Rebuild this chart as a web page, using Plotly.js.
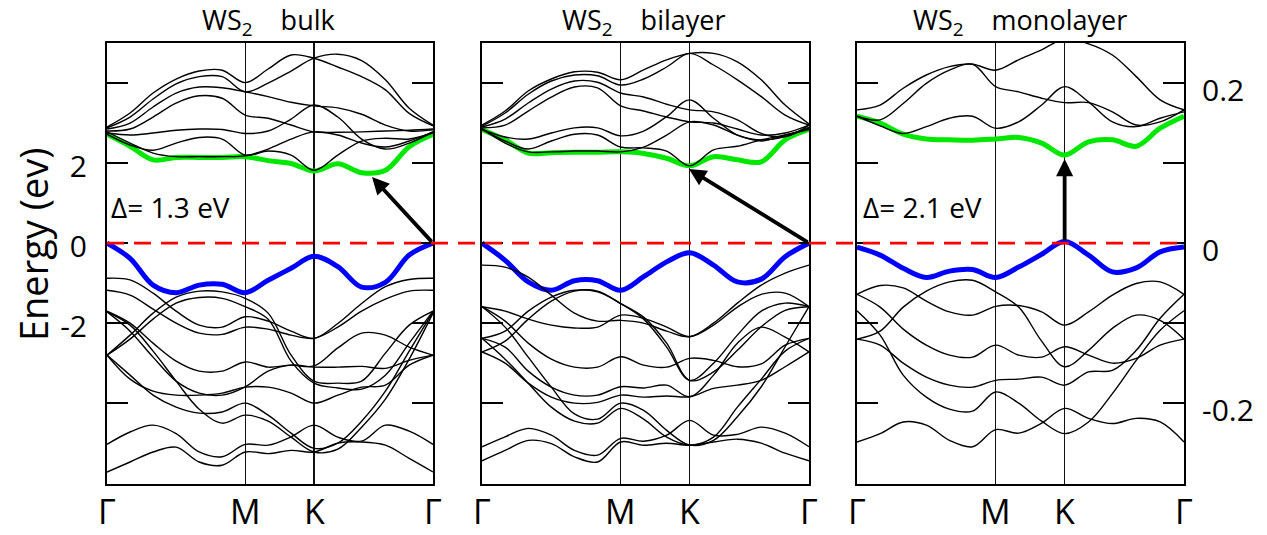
<!DOCTYPE html>
<html>
<head>
<meta charset="utf-8">
<script src="https://cdn.plot.ly/plotly-3.0.1.min.js"></script>
<style>
  html, body { margin: 0; padding: 0; background: #fff; }
  #plot { width: 1267px; height: 535px; }
</style>
</head>
<body>
<div id="plot"></div>
<script>
// k-path sampling along Γ–M–K–Γ (fraction of the path length)
const kPath = [0, 0.0707, 0.1413, 0.212, 0.2827, 0.3533, 0.424, 0.4943, 0.5647, 0.635, 0.708, 0.781, 0.854, 0.927, 1];
const kTicks = [0, 0.424, 0.635, 1];
const kLabels = ['Γ', 'M', 'K', 'Γ'];
const eTicks = [-4, -2, 0, 2, 4];
const eLabelsLeft = ['', '-2', '0', '2', ''];
const eLabelsRight = ['-0.2', '', '0', '', '0.2'];

// ---- WS2 bulk ----
const bulkVBM = [0, -0.38, -1.05, -1.24, -1.05, -1.03, -1.24, -0.93, -0.63, -0.33, -0.59, -1.1, -0.98, -0.3, 0];
const bulkCBM = [2.72, 2.42, 2.08, 2.14, 2.14, 2.14, 2.16, 2.06, 1.99, 1.80, 1.98, 1.76, 1.82, 2.41, 2.72];
const bulkConduction = [
  [2.9, 3.25, 3.75, 4.1, 4.3, 4.32, 4.01, 4.35, 4.7, 4.62, 4.4, 4.16, 3.83, 3.24, 2.93],
  [2.88, 3.15, 3.6, 3.98, 4.16, 4.16, 3.78, 4.0, 4.3, 4.62, 4.72, 4.56, 4.08, 3.37, 2.95],
  [2.85, 3.0, 3.4, 3.75, 3.9, 3.88, 3.78, 3.66, 3.52, 3.43, 3.38, 3.22, 2.95, 2.8, 2.83],
  [2.8, 2.85, 3.15, 3.5, 3.68, 3.62, 3.2, 3.12, 2.95, 2.78, 2.77, 2.78, 2.8, 2.82, 2.85],
  [2.75, 2.7, 2.75, 2.82, 2.85, 2.84, 2.74, 2.8, 3.1, 3.45, 3.15, 2.6, 2.35, 2.5, 2.78],
  [2.72, 2.45, 2.32, 2.5, 2.64, 2.6, 2.2, 2.3, 2.2, 1.82, 2.2, 2.55, 2.62, 2.6, 2.75],
  [2.78, 2.5, 2.25, 2.16, 2.16, 2.16, 2.18, 2.35, 2.6, 2.78, 2.7, 2.5, 2.4, 2.55, 2.78]
];
const bulkValence = [
  [-0.88, -0.92, -1.25, -1.7, -2.05, -2.1, -1.84, -1.95, -2.2, -2.38, -2.01, -1.51, -1.09, -0.91, -0.88],
  [-1.18, -1.3, -1.65, -2.0, -2.25, -2.28, -2.1, -2.15, -2.3, -2.38, -2.1, -1.7, -1.4, -1.2, -1.18],
  [-2.8, -2.3, -1.75, -1.35, -1.2, -1.22, -1.38, -1.75, -2.8, -3.45, -3.5, -3.45, -2.75, -2.05, -1.7],
  [-2.8, -2.4, -1.9, -1.5, -1.36, -1.38, -1.59, -1.9, -2.95, -3.5, -3.62, -3.65, -3.3, -2.5, -1.7],
  [-1.7, -2.0, -2.5, -2.95, -3.2, -3.2, -2.97, -3.1, -3.05, -3.07, -2.62, -2.25, -2.3, -2.6, -2.8],
  [-1.72, -2.2, -2.85, -3.45, -3.75, -3.8, -3.59, -3.2, -3.05, -3.1, -3.1, -3.08, -3.13, -2.93, -2.8],
  [-2.8, -3.3, -3.8, -4.1, -4.25, -4.22, -4.0, -4.3, -4.75, -5.13, -5.0, -4.45, -3.7, -2.7, -1.72],
  [-1.72, -2.05, -2.7, -3.45, -4.15, -4.5, -4.3, -4.45, -4.85, -5.22, -5.15, -4.6, -3.9, -2.9, -1.75],
  [-5.03, -4.72, -4.55, -4.76, -5.22, -5.34, -5.03, -5.05, -4.84, -4.55, -4.85, -4.95, -4.55, -4.7, -5.03],
  [-5.72, -5.47, -5.22, -5.1, -5.47, -5.55, -5.22, -5.26, -5.18, -5.22, -5.0, -4.97, -5.05, -5.38, -5.72],
  [-2.8, -3.4, -3.7, -3.8, -3.8, -3.75, -3.6, -3.6, -3.75, -4.0, -3.8, -3.6, -3.55, -3.05, -2.8]
];

// ---- WS2 bilayer ----
const bilayerVBM = [0, -0.43, -0.97, -1.18, -0.94, -0.94, -1.18, -0.84, -0.47, -0.24, -0.55, -0.97, -0.9, -0.34, 0];
const bilayerCBM = [2.84, 2.58, 2.25, 2.26, 2.27, 2.27, 2.28, 2.24, 2.12, 1.93, 2.16, 2.08, 2.03, 2.58, 2.84];
const bilayerConduction = [
  [2.95, 3.3, 3.8, 4.1, 4.28, 4.27, 4.08, 4.33, 4.58, 4.74, 4.74, 4.53, 4.08, 3.45, 2.98],
  [2.92, 3.25, 3.72, 4.05, 4.2, 4.18, 3.95, 4.1, 4.4, 4.74, 4.45, 4.08, 3.66, 3.2, 2.95],
  [2.9, 3.1, 3.5, 3.85, 4.05, 4.02, 3.75, 3.65, 3.47, 3.33, 3.28, 3.08, 2.74, 2.66, 2.95],
  [2.88, 2.95, 3.3, 3.65, 3.9, 3.88, 3.43, 3.3, 3.15, 3.03, 3.0, 2.85, 2.7, 2.75, 2.95],
  [2.84, 2.65, 2.6, 2.75, 2.88, 2.88, 2.68, 2.8, 3.16, 3.58, 3.12, 2.7, 2.58, 2.66, 2.89],
  [2.84, 2.55, 2.35, 2.55, 2.72, 2.7, 2.4, 2.38, 2.3, 1.93, 2.33, 2.42, 2.58, 2.7, 2.84],
  [2.86, 2.5, 2.28, 2.28, 2.3, 2.3, 2.28, 2.4, 2.7, 3.03, 2.95, 2.7, 2.55, 2.7, 2.86]
];
const bilayerValence = [
  [-0.55, -0.6, -0.85, -1.3, -1.75, -1.95, -1.93, -2.0, -2.2, -2.34, -2.0, -1.5, -1.05, -0.75, -0.55],
  [-2.72, -2.45, -1.9, -1.45, -1.2, -1.2, -1.51, -1.85, -2.5, -3.43, -3.22, -2.68, -2.09, -1.68, -1.59],
  [-2.38, -2.2, -1.7, -1.35, -1.18, -1.22, -1.51, -1.9, -2.6, -3.43, -3.0, -2.3, -1.7, -1.5, -1.59],
  [-1.59, -1.7, -1.9, -2.05, -2.12, -2.1, -1.8, -1.88, -2.1, -2.34, -2.05, -1.6, -1.28, -1.25, -1.59],
  [-1.59, -1.95, -2.5, -2.9, -3.1, -3.1, -2.84, -3.05, -3.1, -2.88, -2.93, -3.09, -3.02, -2.55, -2.38],
  [-2.38, -2.6, -3.2, -3.6, -3.8, -3.8, -3.59, -3.62, -3.55, -3.84, -3.3, -2.5, -2.1, -2.35, -2.72],
  [-2.72, -3.0, -3.5, -3.85, -4.0, -3.98, -3.8, -3.85, -3.82, -3.84, -3.63, -3.55, -3.43, -3.09, -2.72],
  [-1.59, -2.1, -2.85, -3.6, -4.27, -4.4, -4.0, -4.18, -4.68, -5.05, -4.93, -4.34, -3.59, -2.59, -1.59],
  [-2.38, -2.9, -3.5, -4.1, -4.45, -4.5, -4.13, -4.4, -4.85, -5.05, -4.85, -4.1, -3.4, -2.7, -2.38],
  [-5.09, -4.84, -4.63, -4.8, -5.18, -5.3, -4.88, -4.95, -4.8, -4.43, -4.8, -4.78, -4.6, -4.75, -5.09],
  [-5.44, -5.18, -4.93, -5.01, -5.34, -5.47, -4.97, -5.05, -5.0, -5.05, -4.97, -4.9, -5.0, -5.25, -5.44]
];

// ---- WS2 monolayer ----
const monolayerVBM = [-0.1, -0.3, -0.63, -0.86, -0.7, -0.66, -0.86, -0.6, -0.28, 0.04, -0.3, -0.72, -0.62, -0.22, -0.1];
const monolayerCBM = [3.17, 3.0, 2.72, 2.6, 2.58, 2.57, 2.6, 2.64, 2.5, 2.2, 2.53, 2.58, 2.42, 2.87, 3.17];
const monolayerConduction = [
  [3.33, 3.45, 3.87, 4.2, 4.41, 4.47, 4.32, 4.58, 4.83, 5.1, 4.98, 4.7, 4.16, 3.58, 3.33],
  [3.17, 3.08, 3.49, 3.99, 4.32, 4.47, 3.91, 3.78, 3.62, 3.51, 3.51, 3.28, 2.95, 3.03, 3.33],
  [3.17, 2.93, 2.74, 2.91, 3.12, 3.17, 2.87, 3.03, 3.45, 3.91, 3.53, 3.03, 2.91, 3.12, 3.28]
];
const monolayerValence = [
  [-1.28, -1.06, -1.12, -1.45, -1.72, -1.8, -1.58, -1.56, -1.72, -2.05, -1.72, -1.3, -1.01, -0.97, -1.28],
  [-2.4, -2.2, -1.6, -1.2, -0.97, -0.93, -1.22, -1.6, -2.45, -3.09, -2.68, -2.13, -1.8, -1.93, -2.4],
  [-1.28, -1.6, -2.15, -2.55, -2.8, -2.85, -2.55, -2.8, -2.85, -2.59, -2.8, -3.0, -2.88, -2.55, -2.4],
  [-2.4, -2.55, -3.0, -3.35, -3.55, -3.6, -3.43, -3.4, -3.35, -3.55, -3.22, -3.18, -2.68, -1.88, -1.28],
  [-1.69, -2.3, -3.3, -3.85, -4.15, -4.2, -3.72, -4.0, -4.45, -4.76, -4.47, -3.76, -2.93, -2.18, -1.69],
  [-4.97, -4.76, -4.47, -4.55, -4.93, -5.09, -4.66, -4.75, -4.5, -4.13, -4.38, -4.51, -4.38, -4.47, -4.97]
];

// gap arrows: tail at valence maximum, head at conduction minimum
const bulkGapArrow = { k0: 1, e0: 0, k1: 0.813, e1: 1.65 };
const bilayerGapArrow = { k0: 1, e0: 0, k1: 0.633, e1: 1.85 };
const monolayerGapArrow = { k0: 0.635, e0: 0.04, k1: 0.635, e1: 2.1 };

const FONT = '"Open Sans", "Noto Sans", sans-serif';
const BLUE = '#0000ff';
const GREEN = '#00e800';

const panels = [
  { xa: 'x',  ya: 'y',  vbm: bulkVBM,      cbm: bulkCBM,      bands: bulkValence.concat(bulkConduction) },
  { xa: 'x2', ya: 'y2', vbm: bilayerVBM,   cbm: bilayerCBM,   bands: bilayerValence.concat(bilayerConduction) },
  { xa: 'x3', ya: 'y3', vbm: monolayerVBM, cbm: monolayerCBM, bands: monolayerValence.concat(monolayerConduction) }
];

const traces = [];
panels.forEach(p => {
  const base = { x: kPath, xaxis: p.xa, yaxis: p.ya, mode: 'lines', hoverinfo: 'skip', showlegend: false };
  traces.push(Object.assign({}, base, { y: p.vbm, line: { color: BLUE, width: 5, shape: 'spline', smoothing: 1 } }));
  traces.push(Object.assign({}, base, { y: p.cbm, line: { color: GREEN, width: 5, shape: 'spline', smoothing: 1 } }));
  p.bands.forEach(b => {
    traces.push(Object.assign({}, base, { y: b, line: { color: '#000', width: 1.4, shape: 'spline', smoothing: 1 } }));
  });
});

const W = 1267;
function xAxis(px0, px1, anchor) {
  return {
    domain: [px0 / W, px1 / W], anchor: anchor, range: [0, 1],
    showline: true, linecolor: '#000', linewidth: 2, mirror: true,
    tickvals: kTicks, ticks: '', showticklabels: false,
    showgrid: true, gridcolor: '#111', gridwidth: 1.4, zeroline: false, fixedrange: true
  };
}
function yAxis(anchor, extra) {
  return Object.assign({
    domain: [0, 1], anchor: anchor, range: [-6.02, 5.0],
    showline: true, linecolor: '#000', linewidth: 2, mirror: 'ticks',
    tickvals: eTicks, ticks: 'inside', ticklen: 21, tickwidth: 2, tickcolor: '#000',
    tickfont: { family: FONT, size: 30, color: '#000' },
    showgrid: false, zeroline: false, fixedrange: true
  }, extra);
}

function gapArrow(a, xr, yr) {
  return {
    xref: xr, yref: yr, axref: xr, ayref: yr,
    x: a.k1, y: a.e1, ax: a.k0, ay: a.e0,
    text: '', showarrow: true, arrowhead: 2, arrowsize: 0.9, arrowwidth: 3.8, arrowcolor: '#000', standoff: 0
  };
}

// high-symmetry point labels under each panel
function kPointLabels(xr) {
  return kTicks.map((k, i) => ({
    xref: xr, yref: 'paper', x: k, y: -0.062, text: kLabels[i], showarrow: false,
    font: { family: FONT, size: 34, color: '#000' }, xanchor: 'center', yanchor: 'middle'
  }));
}

const titleFont = { family: FONT, size: 27, color: '#000' };
const NB = '\u00a0\u00a0\u00a0\u00a0';
const annotations = [
  { xref: 'paper', yref: 'paper', x: 268 / W, y: 1.048, text: 'WS<sub>2</sub>' + NB + 'bulk', showarrow: false, font: titleFont, xanchor: 'center', yanchor: 'middle' },
  { xref: 'paper', yref: 'paper', x: 644 / W, y: 1.048, text: 'WS<sub>2</sub>' + NB + 'bilayer', showarrow: false, font: titleFont, xanchor: 'center', yanchor: 'middle' },
  { xref: 'paper', yref: 'paper', x: 1020 / W, y: 1.048, text: 'WS<sub>2</sub>' + NB + 'monolayer', showarrow: false, font: titleFont, xanchor: 'center', yanchor: 'middle' },
  { xref: 'paper', yref: 'y', x: 109 / W, y: 0.9, text: 'Δ= 1.3 eV', showarrow: false, font: { family: FONT, size: 28, color: '#000' }, xanchor: 'left', yanchor: 'middle' },
  { xref: 'paper', yref: 'y3', x: 861 / W, y: 0.9, text: 'Δ= 2.1 eV', showarrow: false, font: { family: FONT, size: 28, color: '#000' }, xanchor: 'left', yanchor: 'middle' },
  { xref: 'paper', yref: 'paper', x: 33 / W, y: 0.544, text: 'Energy (ev)', textangle: -90, showarrow: false, font: { family: FONT, size: 38, color: '#000' }, xanchor: 'center', yanchor: 'middle' },
  gapArrow(bulkGapArrow, 'x', 'y'),
  gapArrow(bilayerGapArrow, 'x2', 'y2'),
  gapArrow(monolayerGapArrow, 'x3', 'y3')
].concat(kPointLabels('x'), kPointLabels('x2'), kPointLabels('x3'));

const layout = {
  width: 1267, height: 535,
  margin: { l: 0, r: 0, t: 43, b: 51 },
  paper_bgcolor: '#fff', plot_bgcolor: '#fff',
  showlegend: false,
  xaxis: xAxis(107, 433, 'y'),
  xaxis2: xAxis(482, 809, 'y2'),
  xaxis3: xAxis(857, 1184, 'y3'),
  yaxis: yAxis('x', { ticktext: eLabelsLeft, ticklabelstandoff: 12, ticklabelshift: 3 }),
  yaxis2: yAxis('x2', { showticklabels: false }),
  yaxis3: yAxis('x3', { side: 'right', ticktext: eLabelsRight, ticklabelstandoff: 10, ticklabelshift: 7 }),
  shapes: [
    { type: 'line', xref: 'paper', yref: 'y', x0: 107 / W, x1: 1184 / W, y0: 0, y1: 0,
      line: { color: '#ff0000', width: 2.6, dash: '17px,10px' }, layer: 'above' }
  ],
  annotations: annotations
};

Plotly.newPlot('plot', traces, layout, { staticPlot: true, displayModeBar: false });
</script>
</body>
</html>
